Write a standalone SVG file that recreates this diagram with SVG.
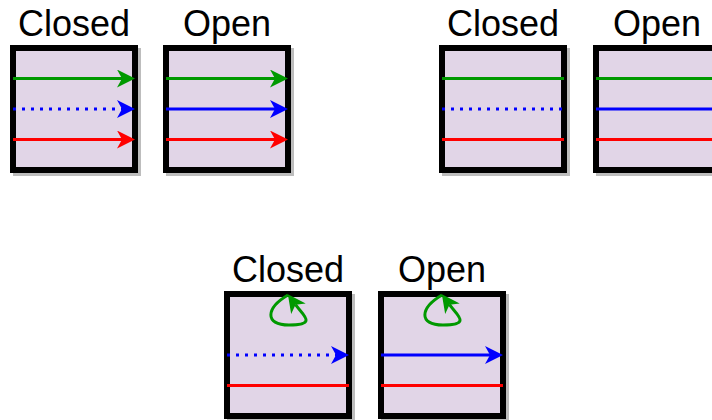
<svg xmlns="http://www.w3.org/2000/svg" width="712" height="420" viewBox="0 0 712 420">
<style>
.box{fill:#e1d5e7;stroke:#000;stroke-width:6}
.shadow{fill:#bdbdbd;stroke:#bdbdbd;stroke-width:6}
.lbl{font-family:"Liberation Sans",Arial,sans-serif;font-size:36px;fill:#000;text-anchor:middle}
.ln{fill:none;stroke-width:3}
.g{stroke:#009900}
.b{stroke:#0000ff}
.r{stroke:#ff0000}
.dot{stroke-dasharray:3 6}
</style>
<defs>
<marker id="ag" viewBox="0 0 18 18" markerWidth="18" markerHeight="18" refX="5" refY="9" orient="auto" markerUnits="userSpaceOnUse"><path d="M0,0 L18,9 L0,18 L5,9 Z" fill="#009900"/></marker>
<marker id="ab" viewBox="0 0 18 18" markerWidth="18" markerHeight="18" refX="5" refY="9" orient="auto" markerUnits="userSpaceOnUse"><path d="M0,0 L18,9 L0,18 L5,9 Z" fill="#0000ff"/></marker>
<marker id="ar" viewBox="0 0 18 18" markerWidth="18" markerHeight="18" refX="5" refY="9" orient="auto" markerUnits="userSpaceOnUse"><path d="M0,0 L18,9 L0,18 L5,9 Z" fill="#ff0000"/></marker>
</defs>
<g id="closed1">
<rect class="shadow" x="16" y="51" width="122" height="122"/>
<rect class="box" x="13" y="48" width="122" height="122"/>
<text class="lbl" x="74" y="36">Closed</text>
</g>
<g id="open1">
<rect class="shadow" x="169" y="51" width="122" height="122"/>
<rect class="box" x="166" y="48" width="122" height="122"/>
<text class="lbl" x="227" y="36">Open</text>
</g>
<g id="closed2">
<rect class="shadow" x="445" y="51" width="122" height="122"/>
<rect class="box" x="442" y="48" width="122" height="122"/>
<text class="lbl" x="503" y="36">Closed</text>
</g>
<g id="open2">
<rect class="shadow" x="599" y="51" width="122" height="122"/>
<rect class="box" x="596" y="48" width="122" height="122"/>
<text class="lbl" x="657" y="36">Open</text>
</g>
<g id="closed3">
<rect class="shadow" x="230" y="297" width="122" height="122"/>
<rect class="box" x="227" y="294" width="122" height="122"/>
<text class="lbl" x="288" y="282">Closed</text>
</g>
<g id="open3">
<rect class="shadow" x="384" y="297" width="122" height="122"/>
<rect class="box" x="381" y="294" width="122" height="122"/>
<text class="lbl" x="442" y="282">Open</text>
</g>
<g id="connectors">
<line class="ln g" x1="13" y1="78.5" x2="122" y2="78.5" marker-end="url(#ag)"/>
<line class="ln b dot" x1="13" y1="109" x2="122" y2="109" marker-end="url(#ab)"/>
<line class="ln r" x1="13" y1="139.5" x2="122" y2="139.5" marker-end="url(#ar)"/>
<line class="ln g" x1="166" y1="78.5" x2="275" y2="78.5" marker-end="url(#ag)"/>
<line class="ln b" x1="166" y1="109" x2="275" y2="109" marker-end="url(#ab)"/>
<line class="ln r" x1="166" y1="139.5" x2="275" y2="139.5" marker-end="url(#ar)"/>
<line class="ln g" x1="442" y1="78.5" x2="564" y2="78.5"/>
<line class="ln b dot" x1="442" y1="109" x2="564" y2="109"/>
<line class="ln r" x1="442" y1="139.5" x2="564" y2="139.5"/>
<line class="ln g" x1="596" y1="78.5" x2="718" y2="78.5"/>
<line class="ln b" x1="596" y1="109" x2="718" y2="109"/>
<line class="ln r" x1="596" y1="139.5" x2="718" y2="139.5"/>
<path class="ln g" d="M288,295 C266,308 264,325 289,325 C318,325 303,315 295.5,304.7" marker-end="url(#ag)"/>
<line class="ln b dot" x1="227" y1="355" x2="336" y2="355" marker-end="url(#ab)"/>
<line class="ln r" x1="227" y1="385.5" x2="349" y2="385.5"/>
<path class="ln g" d="M442,295 C420,308 418,325 443,325 C472,325 457,315 449.5,304.7" marker-end="url(#ag)"/>
<line class="ln b" x1="381" y1="355" x2="490" y2="355" marker-end="url(#ab)"/>
<line class="ln r" x1="381" y1="385.5" x2="503" y2="385.5"/>
</g>
</svg>
